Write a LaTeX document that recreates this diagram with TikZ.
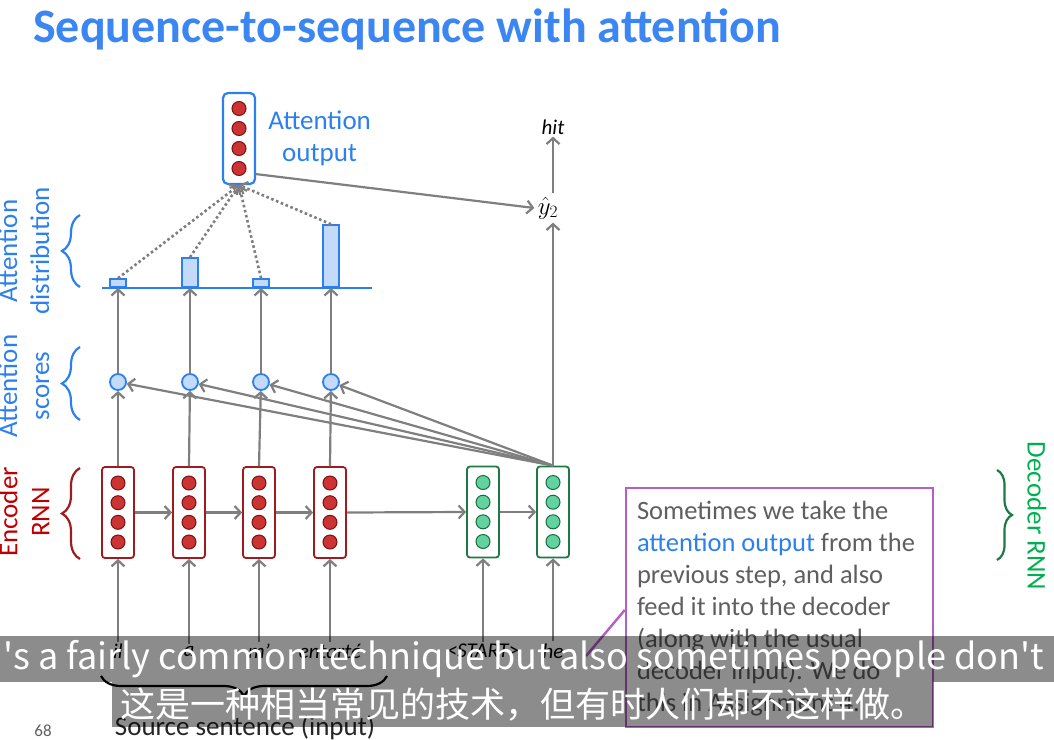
\documentclass[tikz,border=0pt]{standalone}
\usepackage{fontspec}
\setmainfont{Carlito}
\newfontfamily\cjk{Noto Sans CJK SC}
\usetikzlibrary{arrows.meta, positioning, decorations.pathreplacing, calc}
\definecolor{TitleBlue}{HTML}{3B86F2}
\definecolor{AttnBlue}{HTML}{2C80EE}
\definecolor{BarFill}{HTML}{C3DAFB}
\definecolor{EncRed}{HTML}{9E1B1F}
\definecolor{EncFill}{HTML}{CC3333}
\definecolor{EncDark}{HTML}{7B1111}
\definecolor{EncText}{HTML}{C00000}
\definecolor{DecGreen}{HTML}{1D7A45}
\definecolor{DecFill}{HTML}{62D3A0}
\definecolor{DecDark}{HTML}{1B6B3D}
\definecolor{DecText}{HTML}{00B050}
\definecolor{ArrowGray}{HTML}{7F7F7F}
\definecolor{NotePurple}{HTML}{B45EC6}
\definecolor{NoteGray}{HTML}{5F5F5F}
\newcommand{\lblfont}{\fontsize{27}{32}\selectfont}

\tikzset{
  vecbox/.style={draw, rounded corners=3pt, line width=1.8pt, fill=white,
    minimum width=32pt, minimum height=91pt, inner sep=0pt},
  encbox/.style={vecbox, draw=EncRed},
  decbox/.style={vecbox, draw=DecGreen},
  outbox/.style={vecbox, draw=AttnBlue, line width=2.2pt, rounded corners=5pt},
  encdot/.style={circle, draw=EncDark, fill=EncFill, line width=1pt,
    minimum size=14pt, inner sep=0pt},
  decdot/.style={encdot, draw=DecDark, fill=DecFill},
  score/.style={circle, draw=AttnBlue, fill=BarFill, line width=1.8pt,
    minimum size=16pt, inner sep=0pt},
  bar/.style={draw=AttnBlue, fill=BarFill, line width=1.8pt,
    minimum width=16pt, inner sep=0pt, anchor=south},
  conn/.style={draw=ArrowGray, line width=2.2pt,
    -{Straight Barb[length=6pt,width=13pt,line width=2.2pt]}},
  dotconn/.style={conn, dash pattern=on 2.6pt off 2.6pt, line width=2.6pt},
  sidelbl/.style={rotate=90, align=center, font=\lblfont, inner sep=0pt},
  word/.style={font=\fontsize{21}{22}\selectfont\itshape, inner sep=2pt},
  brc/.style={decorate, decoration={brace, amplitude=18pt}, line width=2.2pt},
  subbar/.style={fill=black, fill opacity=0.45, text opacity=1, text=white,
    inner sep=0pt, font=\cjk},
}

\begin{document}
\begin{tikzpicture}[x=1pt, y=-1pt]
  \useasboundingbox (0,0) rectangle (1054,739);

  % Title
  \node[anchor=base west, font=\fontsize{48}{52}\selectfont\bfseries, text=TitleBlue, inner sep=0pt]
    (title) at (33,42) {Sequence-to-sequence with attention};

  % Encoder RNN
  \foreach \i/\x in {1/118, 2/189, 3/259, 4/330}{
    \node[encbox] (e\i) at (\x,512.5) {};
    \foreach \d in {-29.5,-9.8,9.8,29.5}
      \node[encdot] at (\x,512.5+\d) {};
  }
  % Decoder RNN
  \foreach \i/\x in {1/483, 2/553}{
    \node[decbox] (d\i) at (\x,512) {};
    \foreach \d in {-29.5,-9.8,9.8,29.5}
      \node[decdot] at (\x,512+\d) {};
  }
  % Attention output
  \node[outbox] (out) at (239,138.5) {};
  \foreach \d in {-30,-10,10,30}
    \node[encdot] at (239,138.5+\d) {};
  \node[right=12pt of out, align=center, font=\lblfont, text=AttnBlue, inner sep=0pt]
    (outlbl) {Attention\\output};

  % Scores and distribution
  \draw[AttnBlue, line width=2pt] (102,288) -- (372,288);
  \foreach \i/\x/\h in {1/118/8, 2/190/29, 3/261/8, 4/331/62}{
    \node[score] (s\i) at (\x,382) {};
    \node[bar, minimum height=\h pt] (b\i) at (\x,288) {};
  }

  % Words
  \foreach \i/\x/\w in {1/118/il, 2/189/a, 3/259/m’, 4/330/entarté}
    \node[word] (w\i) at (\x,651) {\w};
  \node[word] (w5) at (483,651) {<START>};
  \node[word] (w6) at (553,651) {he};

  % Output side
  \node[font=\fontsize{24}{26}\selectfont] (yhat) at (548,208) {$\hat{y}_2$};
  \node[word] (hit) at (553,127) {hit};

  % Connectors
  \foreach \i in {1,2,3,4}{
    \draw[conn] (w\i.north) -- (e\i.south);
    \draw[conn] (e\i.north) -- (s\i);
    \draw[conn] (s\i) -- (b\i.south);
    \draw[conn] (d2.north) -- (s\i);
    \draw[dotconn] (b\i.north) -- (out.south);
  }
  \draw[conn] (w5.north) -- (d1.south);
  \draw[conn] (w6.north) -- (d2.south);
  \draw[conn] (e1.east) -- (e2.west);
  \draw[conn] (e2.east) -- (e3.west);
  \draw[conn] (e3.east) -- (e4.west);
  \draw[conn] (e4.east) -- (d1.west);
  \draw[conn] (d1.east) -- (d2.west);
  \draw[conn] (d2.north) -- (d2.north |- yhat.south);
  \draw[conn] (d2.north |- yhat.north) -- (d2.north |- hit.south);
  \draw[conn] ($(out.south east)+(0,-11)$) -- (yhat.west);

  % Braces and side labels
  \draw[brc, AttnBlue] (80,287) -- (80,215);
  \node[sidelbl, text=AttnBlue] (lbldist) at (24,251) {Attention\\distribution};
  \draw[brc, AttnBlue] (80,420) -- (80,347);
  \node[sidelbl, text=AttnBlue] (lblscore) at (24,386) {Attention\\scores};
  \draw[brc, EncRed] (80,559) -- (80,468);
  \node[sidelbl, text=EncText] (lblenc) at (24,512) {Encoder\\RNN};
  \draw[brc, DecGreen, decoration={amplitude=15pt}] (997,470) -- (997,560);
  \node[rotate=-90, font=\lblfont, text=DecText, inner sep=0pt] (lbldec) at (1037,516) {Decoder RNN};
  \draw[brc, black, decoration={amplitude=20pt}] (387,676) -- (101,676);
  \node[font=\lblfont, text=black!85, inner sep=0pt] (src) at (245,728) {Source sentence (input)};
  \node[font=\fontsize{17}{20}\selectfont, text=NoteGray, inner sep=0pt] (pagenum) at (43,731) {68};

  % Note
  \node[draw=NotePurple, line width=2.4pt, fill=white, minimum width=307pt,
    minimum height=239pt, inner sep=0pt] (note) at (779.5,607.5) {};
  \coordinate (tip) at (586,656);
  \draw[NotePurple, line width=2.4pt] ($(note.west)+(0,2.5)$) -- (tip);
  \node[below right=14pt and 12pt of note.north west, anchor=north west, align=left,
    font=\fontsize{26.5}{32}\selectfont, text=NoteGray, inner sep=0pt] (notetxt)
    {Sometimes we take the\\
     \textcolor{AttnBlue}{attention output} from the\\
     previous step, and also\\
     feed it into the decoder\\
     (along with the usual\\
     decoder input). We do\\
     this in Assignment 4.};

  % Subtitles
  \node[subbar, minimum width=1060pt, minimum height=46pt, font=\cjk\fontsize{36}{40}\selectfont]
    (sub1) at (524,659) {'s a fairly common technique but also sometimes people don't};
  \node[subbar, minimum width=821pt, minimum height=45pt, font=\cjk\fontsize{35}{38}\selectfont]
    (sub2) at (522.5,704.5) {这是一种相当常见的技术，但有时人们却不这样做。};
\end{tikzpicture}
\end{document}
